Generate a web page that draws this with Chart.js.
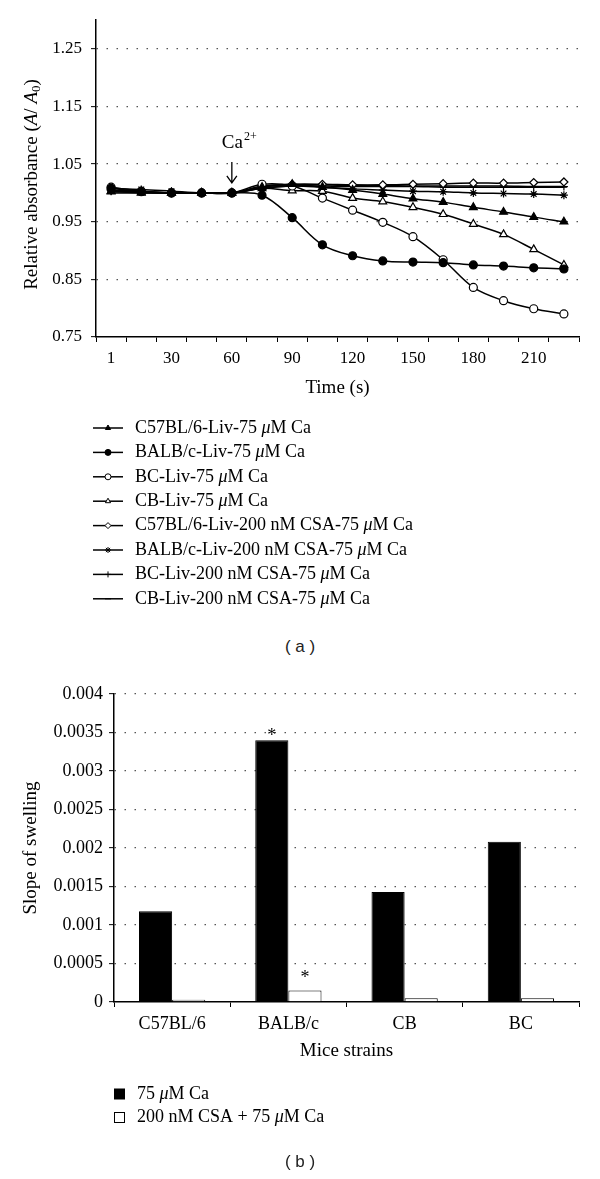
<!DOCTYPE html>
<html>
<head>
<meta charset="utf-8">
<script src="https://cdn.jsdelivr.net/npm/chart.js@4.4.0/dist/chart.umd.min.js"></script>
<style>
  html, body { margin: 0; padding: 0; background: #fff; }
  body { width: 600px; height: 1179px; position: relative; overflow: hidden; }
  #swellChart { position: absolute; left: 0; top: 0; }
  #slopeChart { position: absolute; left: 0; top: 670px; }
  .caption { position: absolute; left: 0; width: 600px; text-align: center; font: 17px "Liberation Sans", Arial, sans-serif; color: #222; }
</style>
</head>
<body>
<canvas id="swellChart" width="600" height="630"></canvas>
<div class="caption" style="top:637px">( a )</div>
<canvas id="slopeChart" width="600" height="509"></canvas>
<div class="caption" style="top:1152px">( b )</div>

<script>
// panel (a): relative absorbance over time
const timeLabels = ['1', '15', '30', '45', '60', '75', '90', '105', '120', '135', '150', '165', '180', '195', '210', '225'];
const timeTicksShown = ['1', '30', '60', '90', '120', '150', '180', '210'];
const absTicks = [0.75, 0.85, 0.95, 1.05, 1.15, 1.25];
const caAddedAt = '60';

const c57Ca     = [1.002, 1.001, 1.000, 1.000, 1.000, 1.010, 1.015, 1.010, 1.005, 0.998, 0.990, 0.984, 0.975, 0.967, 0.958, 0.950];
const balbCa    = [1.008, 1.002, 1.000, 1.000, 1.000, 0.996, 0.957, 0.910, 0.891, 0.882, 0.880, 0.879, 0.875, 0.873, 0.870, 0.868];
const bcCa      = [1.010, 1.003, 1.000, 1.000, 1.000, 1.015, 1.012, 0.991, 0.970, 0.949, 0.924, 0.884, 0.836, 0.813, 0.799, 0.790];
const cbCa      = [1.003, 1.000, 1.000, 1.000, 1.000, 1.008, 1.004, 1.003, 0.991, 0.985, 0.975, 0.963, 0.946, 0.928, 0.902, 0.875];
const c57CsaCa  = [1.005, 1.003, 1.000, 1.000, 1.000, 1.012, 1.015, 1.015, 1.014, 1.014, 1.015, 1.016, 1.017, 1.017, 1.018, 1.019];
const balbCsaCa = [1.008, 1.006, 1.003, 1.000, 1.000, 1.008, 1.012, 1.010, 1.007, 1.005, 1.003, 1.002, 1.000, 0.999, 0.998, 0.996];
const bcCsaCa   = [1.003, 1.002, 1.000, 1.000, 1.000, 1.010, 1.014, 1.014, 1.013, 1.013, 1.012, 1.012, 1.012, 1.012, 1.011, 1.011];
const cbCsaCa   = [1.000, 1.000, 1.000, 1.000, 1.000, 1.008, 1.012, 1.012, 1.011, 1.011, 1.011, 1.010, 1.010, 1.010, 1.010, 1.010];

// panel (b): slope of swelling per strain
const strains = ['C57BL/6', 'BALB/c', 'CB', 'BC'];
const slopeCa = [0.00118, 0.0034, 0.00143, 0.00208];
const slopeCsaCa = [0.00003, 0.00015, 0.00005, 0.00005];
const slopeTicks = [0, 0.0005, 0.001, 0.0015, 0.002, 0.0025, 0.003, 0.0035, 0.004];
const starMarks = [{ds: 0, i: 1}, {ds: 1, i: 1}];

const serif = "'Liberation Serif', 'Times New Roman', serif";

function drawRich(ctx, text, x, y, size) {
    ctx.textBaseline = 'middle';
    ctx.textAlign = 'left';
    ctx.fillStyle = '#000';
    text.split(/(μ)/).forEach(part => {
        if (!part) return;
        ctx.font = (part === 'μ' ? 'italic ' : '') + size + 'px ' + serif;
        ctx.fillText(part, x, y);
        x += ctx.measureText(part).width;
    });
}

function lineSet(label, data, style, fill, radius) {
    return {
        label: label,
        data: data,
        borderColor: '#000',
        borderWidth: 1.5,
        pointStyle: style,
        pointRadius: radius,
        pointBackgroundColor: fill,
        pointBorderColor: '#000',
        pointBorderWidth: 1.2,
        tension: 0.35,
        fill: false
    };
}

const swellExtras = {
    id: 'swellExtras',
    afterDatasetsDraw(chart) {
        const ctx = chart.ctx;
        const x = chart.scales.x.getPixelForValue(timeLabels.indexOf(caAddedAt));
        const y0 = chart.scales.y.getPixelForValue(1.0);
        ctx.save();
        // arrow marking Ca2+ addition
        ctx.strokeStyle = '#000';
        ctx.lineWidth = 1.3;
        ctx.beginPath();
        ctx.moveTo(x, y0 - 31);
        ctx.lineTo(x, y0 - 10);
        ctx.moveTo(x - 5, y0 - 17);
        ctx.lineTo(x, y0 - 10);
        ctx.lineTo(x + 5, y0 - 17);
        ctx.stroke();
        ctx.fillStyle = '#000';
        ctx.textBaseline = 'alphabetic';
        ctx.textAlign = 'left';
        ctx.font = '19px ' + serif;
        ctx.fillText('Ca', x - 10, y0 - 45);
        const w = ctx.measureText('Ca').width;
        ctx.font = '12px ' + serif;
        ctx.fillText('2+', x - 10 + w + 1, y0 - 53);
        ctx.restore();
    },
    afterDraw(chart) {
        const ctx = chart.ctx;
        ctx.save();
        // y axis title with italic A and subscript
        const parts = [['Relative absorbance (', ''], ['A', 'italic'], ['/ ', ''], ['A', 'italic'], ['0', 'sub'], [')', '']];
        const size = 19;
        const fontOf = p => (p[1] === 'italic' ? 'italic ' : '') + (p[1] === 'sub' ? 13 : size) + 'px ' + serif;
        let total = 0;
        parts.forEach(p => { ctx.font = fontOf(p); total += ctx.measureText(p[0]).width; });
        ctx.translate(32, (chart.chartArea.top + chart.chartArea.bottom) / 2 + 6);
        ctx.rotate(-Math.PI / 2);
        ctx.textBaseline = 'middle';
        ctx.textAlign = 'left';
        ctx.fillStyle = '#000';
        let cx = -total / 2;
        parts.forEach(p => {
            ctx.font = fontOf(p);
            ctx.fillText(p[0], cx, p[1] === 'sub' ? 5 : 0);
            cx += ctx.measureText(p[0]).width;
        });
        ctx.restore();

        // legend: line with marker, one entry per row
        chart.data.datasets.forEach((ds, i) => {
            const y = 428 + i * 24.4;
            ctx.save();
            ctx.strokeStyle = '#000';
            ctx.lineWidth = 1.5;
            ctx.beginPath();
            ctx.moveTo(93, y);
            ctx.lineTo(123, y);
            ctx.stroke();
            ctx.fillStyle = ds.pointBackgroundColor;
            ctx.lineWidth = 1;
            Chart.helpers.drawPoint(ctx, {pointStyle: ds.pointStyle, radius: 3, rotation: 0, borderWidth: 1}, 108, y);
            drawRich(ctx, ds.label, 135, y, 18);
            ctx.restore();
        });
    }
};

new Chart(document.getElementById('swellChart'), {
    type: 'line',
    data: {
        labels: timeLabels,
        datasets: [
            lineSet('C57BL/6-Liv-75 μM Ca', c57Ca, 'triangle', '#000', 4.5),
            lineSet('BALB/c-Liv-75 μM Ca', balbCa, 'circle', '#000', 4),
            lineSet('BC-Liv-75 μM Ca', bcCa, 'circle', '#fff', 4),
            lineSet('CB-Liv-75 μM Ca', cbCa, 'triangle', '#fff', 4.5),
            lineSet('C57BL/6-Liv-200 nM CSA-75 μM Ca', c57CsaCa, 'rectRot', '#fff', 4),
            lineSet('BALB/c-Liv-200 nM CSA-75 μM Ca', balbCsaCa, 'star', '#000', 4),
            lineSet('BC-Liv-200 nM CSA-75 μM Ca', bcCsaCa, 'cross', '#000', 4),
            lineSet('CB-Liv-200 nM CSA-75 μM Ca', cbCsaCa, 'line', '#000', 3)
        ]
    },
    options: {
        responsive: false,
        animation: false,
        layout: { padding: { left: 0, right: 21, top: 20, bottom: 230 } },
        plugins: { legend: { display: false }, tooltip: { enabled: false } },
        scales: {
            x: {
                offset: true,
                afterFit: s => { s.height = 63; },
                grid: { offset: true, drawOnChartArea: false, drawTicks: true, tickLength: 5, tickColor: '#000', tickWidth: 1 },
                border: { display: true, color: '#000', width: 1.5 },
                ticks: {
                    autoSkip: false, maxRotation: 0, padding: 6, color: '#000',
                    font: { family: serif, size: 17 },
                    callback: (v, i) => timeTicksShown.includes(timeLabels[i]) ? timeLabels[i] : ''
                },
                title: { display: true, text: 'Time (s)', color: '#000', font: { family: serif, size: 19 }, padding: { top: 0, bottom: 1 } }
            },
            y: {
                min: 0.75,
                max: 1.30,
                afterBuildTicks: s => { s.ticks = absTicks.map(v => ({ value: v })); },
                afterFit: s => { s.width = 96; },
                grid: {
                    color: c => c.index === 0 ? 'rgba(0,0,0,0)' : '#555',
                    lineWidth: 1.3,
                    tickLength: 5, tickColor: '#000', tickWidth: 1, tickBorderDash: []
                },
                border: { display: true, color: '#000', width: 1.5, dash: [1.5, 8.5] },
                ticks: { padding: 9, color: '#000', font: { family: serif, size: 17 }, callback: v => v.toFixed(2) }
            }
        }
    },
    plugins: [swellExtras]
});

const slopeExtras = {
    id: 'slopeExtras',
    afterDatasetsDraw(chart) {
        const ctx = chart.ctx;
        ctx.save();
        ctx.fillStyle = '#000';
        ctx.font = '18px ' + serif;
        ctx.textAlign = 'center';
        ctx.textBaseline = 'alphabetic';
        starMarks.forEach(m => {
            const bar = chart.getDatasetMeta(m.ds).data[m.i];
            ctx.fillText('*', bar.x, bar.y + 1 - (m.ds ? 8 : 0));
        });
        ctx.restore();
    },
    afterDraw(chart) {
        const ctx = chart.ctx;
        chart.data.datasets.forEach((ds, i) => {
            const y = 424 + i * 23.5;
            ctx.save();
            ctx.fillStyle = ds.backgroundColor;
            ctx.strokeStyle = '#000';
            ctx.lineWidth = 1;
            ctx.fillRect(114.5, y - 5, 10, 10);
            ctx.strokeRect(114.5, y - 5, 10, 10);
            drawRich(ctx, ds.label, 137, y, 18);
            ctx.restore();
        });
    }
};

new Chart(document.getElementById('slopeChart'), {
    type: 'bar',
    data: {
        labels: strains,
        datasets: [
            { label: '75 μM Ca', data: slopeCa, backgroundColor: '#000', borderColor: '#000', borderWidth: 1 },
            { label: '200 nM CSA + 75 μM Ca', data: slopeCsaCa, backgroundColor: '#fff', borderColor: '#000', borderWidth: 1 }
        ]
    },
    options: {
        responsive: false,
        animation: false,
        categoryPercentage: 0.57,
        barPercentage: 1.0,
        layout: { padding: { left: 0, right: 21, top: 24, bottom: 117 } },
        plugins: { legend: { display: false }, tooltip: { enabled: false } },
        scales: {
            x: {
                afterFit: s => { s.height = 60; },
                grid: { offset: true, drawOnChartArea: false, drawTicks: true, tickLength: 5, tickColor: '#000', tickWidth: 1 },
                border: { display: true, color: '#000', width: 1.5 },
                ticks: { padding: 6, color: '#000', font: { family: serif, size: 18 } },
                title: { display: true, text: 'Mice strains', color: '#000', font: { family: serif, size: 19 }, padding: { top: 0, bottom: 0 } }
            },
            y: {
                min: 0,
                max: 0.004,
                afterBuildTicks: s => { s.ticks = slopeTicks.map(v => ({ value: v })); },
                afterFit: s => { s.width = 114; },
                grid: {
                    color: c => c.index === 0 ? 'rgba(0,0,0,0)' : '#555',
                    lineWidth: 1.3,
                    tickLength: 5, tickColor: '#000', tickWidth: 1, tickBorderDash: []
                },
                border: { display: true, color: '#000', width: 1.5, dash: [1.5, 8.5] },
                ticks: { padding: 6, color: '#000', font: { family: serif, size: 18 }, callback: v => String(+v.toFixed(4)) },
                title: { display: true, text: 'Slope of swelling', color: '#000', font: { family: serif, size: 19 }, padding: { top: 20, bottom: 0 } }
            }
        }
    },
    plugins: [slopeExtras]
});
</script>
</body>
</html>
